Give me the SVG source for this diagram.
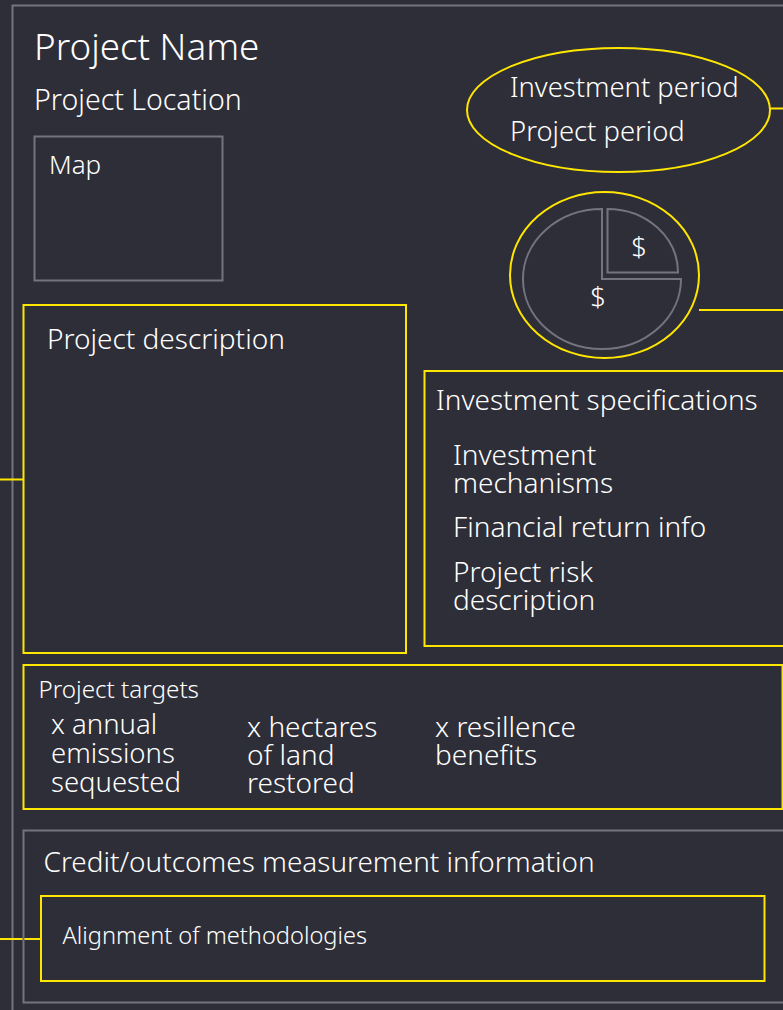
<svg xmlns="http://www.w3.org/2000/svg" width="783" height="1010" viewBox="0 0 783 1010">
  <style>
    .bg { fill: #2e2e38; }
    .frame { fill: none; stroke: #747480; stroke-width: 2; }
    .box { fill: none; stroke: #ffe600; stroke-width: 2; }
    .pie { fill: none; stroke: #747480; stroke-width: 2; }
    .link { fill: none; stroke: #ffe600; stroke-width: 2; }
    text { font-family: "Noto Sans", "Open Sans", sans-serif; font-weight: 300; fill: #ffffff; }
    .title { font-size: 36.8px; }
    .m { font-size: 28px; }
    .p { font-size: 27.4px; }
    .t { font-size: 28px; }
    .s { font-size: 23.6px; }
  </style>

  <rect class="bg" x="0" y="0" width="783" height="1010"/>

  <!-- page frame -->
  <rect id="page-frame" class="frame" x="12.5" y="5.5" width="800" height="1030"/>

  <!-- connectors -->
  <g id="connectors">
    <line class="link" x1="770" y1="108.5" x2="783" y2="108.5"/>
    <line class="link" x1="699" y1="310" x2="783" y2="310"/>
    <line class="link" x1="0" y1="479.5" x2="23.5" y2="479.5"/>
    <line class="link" x1="0" y1="939" x2="41" y2="939"/>
  </g>

  <!-- header -->
  <g id="header">
    <text class="title" x="34" y="60">Project Name</text>
    <text class="m" x="34" y="110" style="font-size:28.5px">Project Location</text>
  </g>

  <g id="map">
    <rect class="frame" x="34.5" y="136.5" width="188" height="144"/>
    <text x="49" y="174" style="font-size:26px">Map</text>
  </g>

  <g id="periods">
    <ellipse class="box" cx="618.5" cy="110" rx="151.5" ry="62"/>
    <text class="p" x="510" y="97">Investment period</text>
    <text class="p" x="510" y="141">Project period</text>
  </g>

  <g id="funding-split">
    <ellipse class="box" cx="604.5" cy="275" rx="94.5" ry="83"/>
    <path class="pie" d="M602,279 L681,279 A79,70 0 1 1 602,209 Z"/>
    <path class="pie" d="M607.5,209 A70.5,63.5 0 0 1 678,272.5 L607.5,272.5 Z"/>
    <text class="p" x="639" y="257" text-anchor="middle">$</text>
    <text class="p" x="598" y="307" text-anchor="middle">$</text>
  </g>

  <g id="project-description">
    <rect class="box" x="23.5" y="305" width="382.5" height="348"/>
    <text class="m" x="47" y="349">Project description</text>
  </g>

  <g id="investment-specifications">
    <rect class="box" x="424.5" y="371" width="380" height="275"/>
    <text class="m" x="436" y="410">Investment specifications</text>
    <text class="m" x="453" y="465">Investment</text>
    <text class="m" x="453" y="493">mechanisms</text>
    <text class="m" x="453" y="537">Financial return info</text>
    <text class="m" x="453" y="582">Project risk</text>
    <text class="m" x="453" y="610">description</text>
  </g>

  <g id="project-targets">
    <rect class="box" x="23.5" y="665" width="759" height="144"/>
    <text x="38.5" y="698" style="font-size:24.2px">Project targets</text>
    <text x="51" y="734" style="font-size:27.5px">x annual</text>
    <text x="51" y="763" style="font-size:27.5px">emissions</text>
    <text x="51" y="792" style="font-size:27.5px">sequested</text>
    <text class="t" x="247" y="737">x hectares</text>
    <text class="t" x="247" y="765">of land</text>
    <text class="t" x="247" y="793">restored</text>
    <text class="t" x="435" y="737">x resillence</text>
    <text class="t" x="435" y="765">benefits</text>
  </g>

  <g id="measurement">
    <rect class="frame" x="23.5" y="830.5" width="780" height="172"/>
    <text x="43.5" y="872" style="font-size:27.9px">Credit/outcomes measurement information</text>
  </g>

  <g id="methodologies">
    <rect class="box" x="41" y="896" width="723.5" height="85"/>
    <text class="s" x="62.5" y="944">Alignment of methodologies</text>
  </g>
</svg>
